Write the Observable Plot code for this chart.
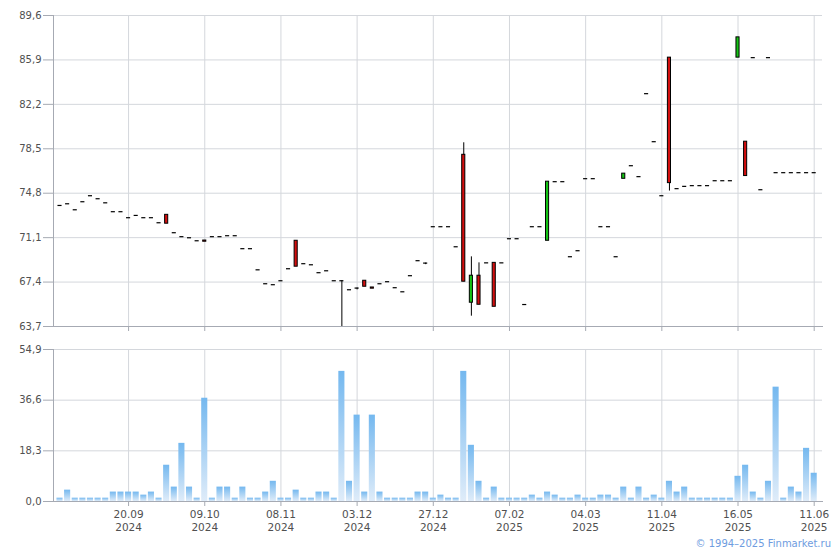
<!DOCTYPE html>
<html><head><meta charset="utf-8">
<script src="https://cdn.jsdelivr.net/npm/d3@7"></script>
<script src="https://cdn.jsdelivr.net/npm/@observablehq/plot@0.6"></script>
<style>
body{margin:0;background:#fff;}
#chart{position:relative;width:840px;height:550px;font-family:"DejaVu Sans",Verdana,sans-serif;}
#chart svg{display:block;}
#caption{position:absolute;right:9px;top:538px;font-size:10px;color:#6e9ce0;font-family:"DejaVu Sans",Verdana,sans-serif;white-space:nowrap;}
</style></head>
<body>
<div id="chart"><div id="caption">© 1994–2025 Finmarket.ru</div></div>
<script>
// ---- data (index = trading session, 0..99) ----
const opens = [
73.78,73.92,73.42,74.09,74.59,74.34,74.00,73.26,73.26,72.76,
72.95,72.76,72.76,72.34,73.00,71.51,71.18,71.09,70.84,70.86,
71.18,71.18,71.26,71.26,70.18,70.18,68.42,67.26,67.18,67.51,
68.51,70.84,68.93,68.84,68.18,68.34,67.51,67.51,66.76,66.90,
67.51,66.95,67.26,67.43,66.93,66.59,67.93,69.18,68.98,72.01,
72.01,72.01,70.34,78.00,65.68,67.93,69.00,69.00,69.00,71.01,
71.01,65.53,72.01,72.01,70.84,75.76,75.76,69.51,70.01,76.01,
76.01,72.01,72.01,69.51,76.00,77.09,76.18,83.09,79.09,74.59,
86.09,75.18,75.37,75.43,75.43,75.43,75.84,75.84,75.84,86.09,
79.09,86.09,75.09,86.09,76.51,76.51,76.51,76.51,76.51,76.51];
const closes = [
73.78,73.92,73.42,74.09,74.59,74.34,74.00,73.26,73.26,72.76,
72.95,72.76,72.76,72.34,72.26,71.51,71.18,71.09,70.84,70.76,
71.18,71.18,71.26,71.26,70.18,70.18,68.42,67.26,67.18,67.51,
68.51,68.68,68.93,68.84,68.18,68.34,67.51,67.51,66.76,66.90,
67.01,66.85,67.26,67.43,66.93,66.59,67.93,69.18,68.98,72.01,
72.01,72.01,70.34,67.43,67.93,65.51,69.00,65.34,69.00,71.01,
71.01,65.53,72.01,72.01,75.76,75.76,75.76,69.51,70.01,76.01,
76.01,72.01,72.01,69.51,76.43,77.09,76.18,83.09,79.09,74.59,
75.64,75.18,75.37,75.43,75.43,75.43,75.84,75.84,75.84,87.78,
76.23,86.09,75.09,86.09,76.51,76.51,76.51,76.51,76.51,76.51];
const highs = [
73.78,73.92,73.42,74.09,74.59,74.34,74.00,73.26,73.26,72.76,
72.95,72.76,72.76,72.34,73.00,71.51,71.18,71.09,70.84,70.86,
71.18,71.18,71.26,71.26,70.18,70.18,68.42,67.26,67.18,67.51,
68.51,70.84,68.93,68.84,68.18,68.34,67.51,67.51,66.76,66.90,
67.51,66.95,67.26,67.43,66.93,66.59,67.93,69.18,68.98,72.01,
72.01,72.01,70.34,79.00,69.50,69.00,69.00,69.00,69.00,71.01,
71.01,65.53,72.01,72.01,75.76,75.76,75.76,69.51,70.01,76.01,
76.01,72.01,72.01,69.51,76.43,77.09,76.18,83.09,79.09,74.59,
86.09,75.18,75.37,75.43,75.43,75.43,75.84,75.84,75.84,87.78,
79.09,86.09,75.09,86.09,76.51,76.51,76.51,76.51,76.51,76.51];
const lows = [
73.78,73.92,73.42,74.09,74.59,74.34,74.00,73.26,73.26,72.76,
72.95,72.76,72.76,72.34,72.26,71.51,71.18,71.09,70.84,70.76,
71.18,71.18,71.26,71.26,70.18,70.18,68.42,67.26,67.18,67.51,
68.51,68.68,68.93,68.84,68.18,68.34,67.51,63.70,66.76,66.75,
67.01,66.85,67.26,67.43,66.93,66.59,67.93,69.18,68.85,72.01,
72.01,72.01,70.34,67.43,64.56,65.51,69.00,65.34,69.00,71.01,
71.01,65.53,72.01,72.01,70.84,75.76,75.76,69.51,70.01,76.01,
76.01,72.01,72.01,69.51,76.00,77.09,76.18,83.09,79.09,74.59,
74.98,75.18,75.37,75.43,75.43,75.43,75.84,75.84,75.84,86.09,
76.23,86.09,75.09,86.09,76.51,76.51,76.51,76.51,76.51,76.51];
const volumes = [
1.2,4.1,1.2,1.2,1.2,1.2,1.2,3.4,3.4,3.4,
3.4,2.3,3.4,1.2,13.1,5.2,21.0,5.2,1.2,37.3,
1.2,5.2,5.2,1.2,5.2,1.2,1.2,3.4,7.3,1.2,
1.2,4.1,1.2,1.2,3.4,3.4,1.2,47.0,7.3,31.2,
3.4,31.2,3.4,1.2,1.2,1.2,1.2,3.4,3.4,1.2,
2.3,1.2,1.2,47.0,20.3,7.3,1.2,5.2,1.2,1.2,
1.2,1.2,2.3,1.2,3.4,2.3,1.2,1.2,2.3,1.2,
1.2,2.3,2.3,1.2,5.2,1.2,5.2,1.2,2.3,1.2,
7.3,3.4,5.2,1.2,1.2,1.2,1.2,1.2,1.2,9.1,
13.1,3.4,1.2,7.3,41.3,1.2,5.2,3.4,19.2,10.2];
const tickIndex = [9,19,29,39,49,59,69,79,89,99];
const tickLabels = ["20.09\n2024","09.10\n2024","08.11\n2024","03.12\n2024","27.12\n2024",
                    "07.02\n2025","04.03\n2025","11.04\n2025","16.05\n2025","11.06\n2025"];
const priceTicks = [63.7,67.4,71.1,74.8,78.5,82.2,85.9,89.6];
const volumeTicks = [0,18.3,36.6,54.9];

// ---- build ----
const N = opens.length;
const rows = d3.range(N).map(i => ({i, open: opens[i], close: closes[i], high: highs[i], low: lows[i], vol: volumes[i]}));
const bodies = rows.filter(d => d.open !== d.close);
const dojis = rows.filter(d => d.open === d.close);
const wicks = rows.filter(d => d.high > Math.max(d.open, d.close) || d.low < Math.min(d.open, d.close));
const labelOf = new Map(tickIndex.map((t, k) => [t, tickLabels[k]]));
const comma = v => v.toFixed(1).replace(".", ",");

const GRID = "#d4d7dc", AXIS = "#a6aab3", TEXT = "#505050";
const xScale = {type: "band", domain: d3.range(N), range: [55.7, 817.5], paddingInner: 0.2, paddingOuter: 0.1};
const style = {fontSize: "10px", fontFamily: "'DejaVu Sans', Verdana, sans-serif", color: TEXT, background: "#fff", overflow: "visible"};

const priceChart = Plot.plot({
  width: 840, height: 335,
  marginLeft: 53, marginRight: 18, marginTop: 15, marginBottom: 9,
  style,
  x: {...xScale, axis: null, label: null},
  y: {domain: [63.7, 89.6], axis: null, label: null},
  marks: [
    Plot.gridY(priceTicks, {stroke: GRID, strokeOpacity: 1}),
    Plot.gridX(tickIndex, {stroke: GRID, strokeOpacity: 1}),
    Plot.axisY(priceTicks, {tickFormat: comma, tickSize: 10, tickPadding: 2, stroke: AXIS, fill: TEXT, label: null}),
    Plot.axisX(tickIndex, {tickFormat: () => "", tickSize: 5, stroke: AXIS, label: null}),
    Plot.frame({anchor: "left", stroke: AXIS}),
    Plot.frame({anchor: "bottom", stroke: AXIS}),
    Plot.ruleX(wicks, {x: "i", y1: "low", y2: "high", stroke: "#000", strokeWidth: 1}),
    Plot.tickY(dojis, {x: "i", y: "close", stroke: "#000", strokeWidth: 1.2, insetLeft: 1, insetRight: 1}),
    Plot.barY(bodies, {x: "i", y1: "open", y2: "close", fill: d => d.close > d.open ? "#14c414" : "#d40f0f",
      stroke: "#000", strokeWidth: 1, insetLeft: 1.5, insetRight: 1.5})
  ]
});

const volumeChart = Plot.plot({
  width: 840, height: 200,
  marginLeft: 53, marginRight: 18, marginTop: 14, marginBottom: 34,
  style,
  x: {...xScale, axis: null, label: null},
  y: {domain: [0, 54.9], axis: null, label: null},
  marks: [
    Plot.gridY(volumeTicks, {stroke: GRID, strokeOpacity: 1}),
    Plot.gridX(tickIndex, {stroke: GRID, strokeOpacity: 1}),
    Plot.barY(rows, {x: "i", y: "vol", fill: "url(#volgrad)"}),
    Plot.axisY(volumeTicks, {tickFormat: comma, tickSize: 10, tickPadding: 2, stroke: AXIS, fill: TEXT, label: null}),
    Plot.axisX(tickIndex, {tickFormat: t => labelOf.get(t), tickSize: 5, tickPadding: 3, stroke: AXIS, fill: TEXT, lineHeight: 1.2, fontSize: 10.5, label: null}),
    Plot.frame({anchor: "left", stroke: AXIS}),
    Plot.frame({anchor: "bottom", stroke: AXIS})
  ]
});
const defs = document.createElementNS("http://www.w3.org/2000/svg", "defs");
defs.innerHTML = '<linearGradient id="volgrad" x1="0" y1="0" x2="0" y2="1"><stop offset="0" stop-color="#74b8ef"/><stop offset="1" stop-color="#dfecf9"/></linearGradient>';
volumeChart.prepend(defs);

const chart = document.getElementById("chart");
chart.prepend(volumeChart);
chart.prepend(priceChart);
</script>
</body></html>
